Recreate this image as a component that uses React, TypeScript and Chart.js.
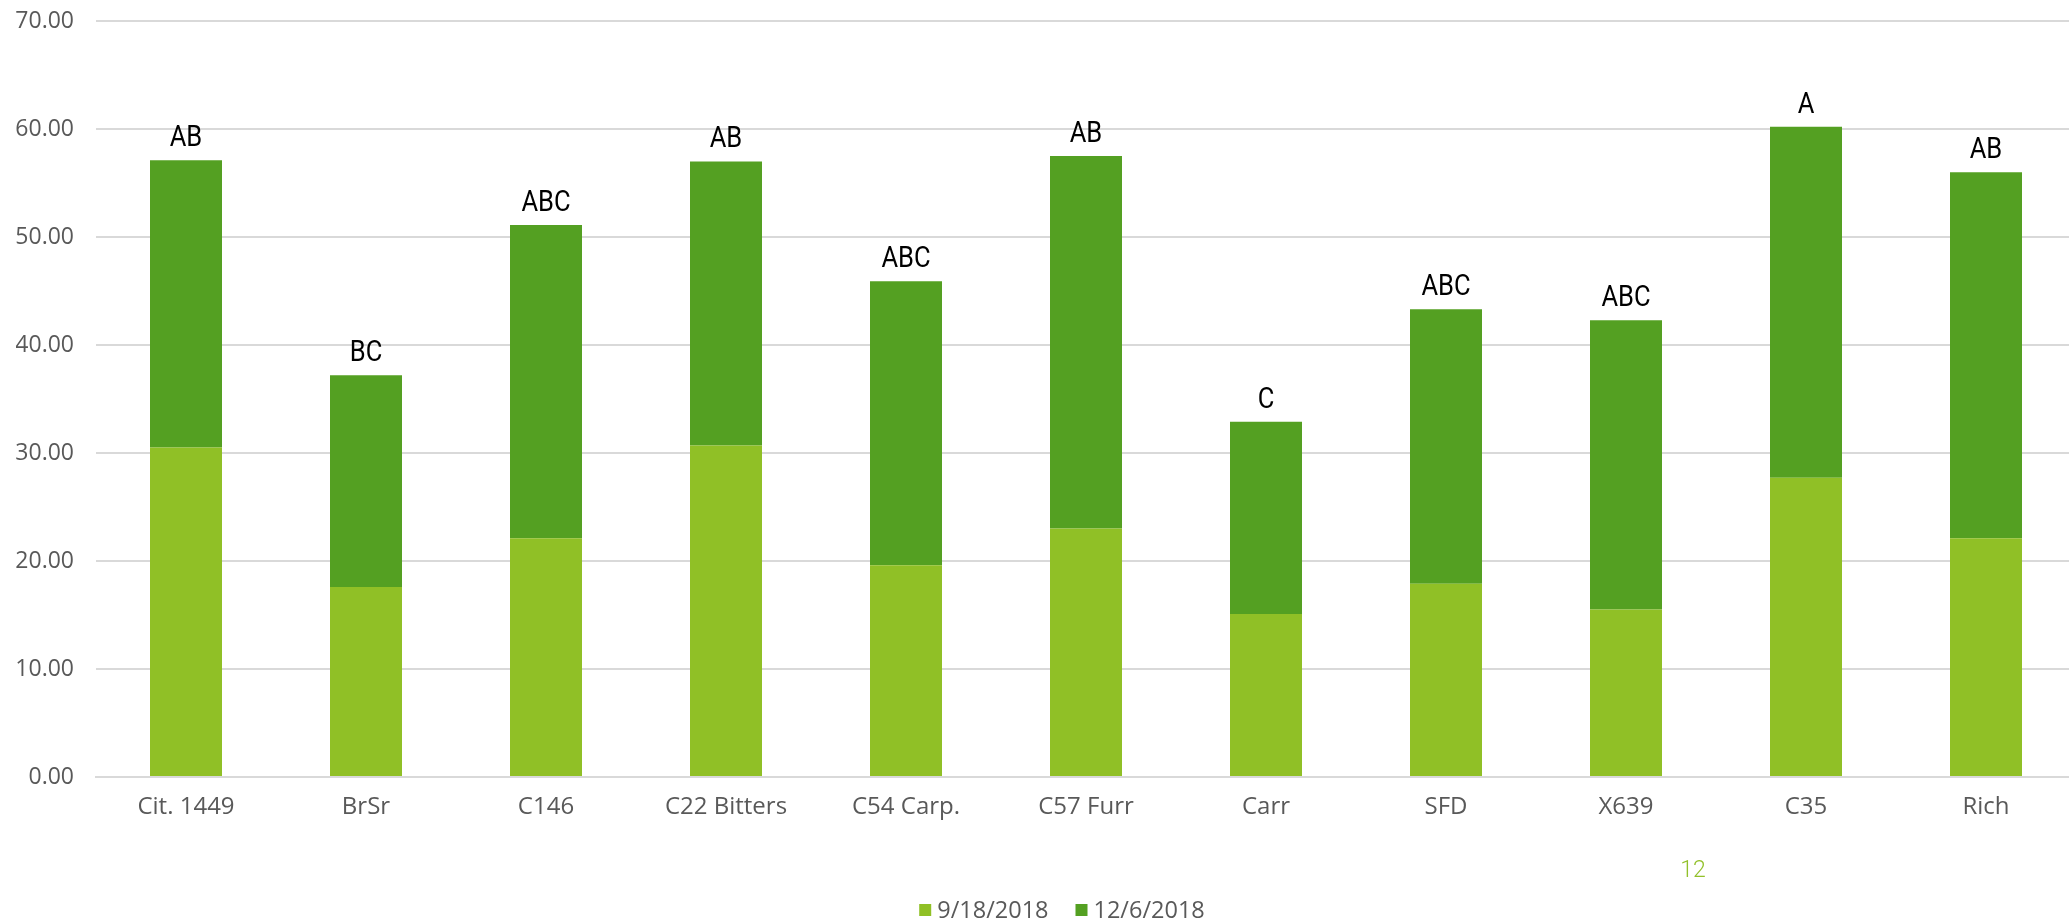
import React, { useEffect, useRef } from "react";
import { Chart, registerables } from "chart.js";

Chart.register(...registerables);

const categories = [
  "Cit. 1449",
  "BrSr",
  "C146",
  "C22 Bitters",
  "C54 Carp.",
  "C57 Furr",
  "Carr",
  "SFD",
  "X639",
  "C35",
  "Rich",
];
const seriesLabels = ["9/18/2018", "12/6/2018"];
const sept18 = [30.5, 17.6, 22.1, 30.7, 19.6, 23.0, 15.1, 17.9, 15.5, 27.7, 22.1];
const dec6 = [26.6, 19.6, 29.0, 26.3, 26.3, 34.5, 17.8, 25.4, 26.8, 32.5, 33.9];
const letters = ["AB", "BC", "ABC", "AB", "ABC", "AB", "C", "ABC", "ABC", "A", "AB"];
const yTicks = [0, 10, 20, 30, 40, 50, 60, 70];
const pageNumber = "12";

const LIGHT = "#90C026";
const DARK = "#54A022";
const GRAY = "#595959";
const GRID = "#D9D9D9";
const SANS = '"Open Sans", sans-serif';

const lettersPlugin = {
  id: "letters",
  afterDatasetsDraw(chart: any) {
    const ctx = chart.ctx;
    const meta = chart.getDatasetMeta(chart.data.datasets.length - 1);
    meta.data.forEach((el: any, i: number) => {
      ctx.save();
      ctx.font = '29px "Roboto", sans-serif';
      ctx.fillStyle = "#000000";
      ctx.textAlign = "center";
      ctx.textBaseline = "alphabetic";
      ctx.translate(el.x, el.y - 14);
      ctx.scale(0.88, 1);
      ctx.fillText(letters[i], 0, 0);
      ctx.restore();
    });
  },
};

const legendPlugin = {
  id: "customLegend",
  afterDraw(chart: any) {
    const ctx = chart.ctx;
    ctx.save();
    ctx.font = `23.5px ${SANS}`;
    const items = chart.data.datasets.map((d: any) => ({
      text: d.label as string,
      color: d.backgroundColor as string,
    }));
    const box = 12;
    const gap = 6;
    const itemGap = 27;
    const widths = items.map((it: any) => box + gap + ctx.measureText(it.text).width);
    const total = widths.reduce((a: number, b: number) => a + b, 0) + itemGap * (items.length - 1);
    let x = 1062 - total / 2;
    const cy = 910;
    ctx.textBaseline = "middle";
    ctx.textAlign = "left";
    items.forEach((it: any, i: number) => {
      ctx.fillStyle = it.color;
      ctx.fillRect(x, cy - box / 2, box, box);
      ctx.fillStyle = GRAY;
      ctx.fillText(it.text, x + box + gap, cy + 1);
      x += widths[i] + itemGap;
    });
    ctx.fillStyle = "#92C02A";
    ctx.font = '300 23px "Roboto", sans-serif';
    ctx.textAlign = "center";
    ctx.fillText(pageNumber, 1693, 871);
    ctx.restore();
  },
};

export default function App() {
  const ref = useRef<HTMLCanvasElement | null>(null);

  useEffect(() => {
    if (!ref.current) return;
    const chart = new Chart(ref.current, {
      type: "bar",
      data: {
        labels: categories,
        datasets: [
          {
            label: seriesLabels[0],
            data: sept18,
            backgroundColor: LIGHT,
            borderWidth: 0,
            barPercentage: 0.4,
            categoryPercentage: 1,
          },
          {
            label: seriesLabels[1],
            data: dec6,
            backgroundColor: DARK,
            borderWidth: 0,
            barPercentage: 0.4,
            categoryPercentage: 1,
          },
        ],
      },
      options: {
        responsive: false,
        animation: false,
        devicePixelRatio: 1,
        layout: { padding: { left: 16, right: 0, top: 21, bottom: 100 } },
        plugins: {
          legend: { display: false },
          tooltip: { enabled: false },
        },
        scales: {
          x: {
            stacked: true,
            afterFit: (s: any) => {
              s.height = 44;
            },
            grid: { display: false },
            border: { display: true, color: GRID, width: 2 },
            ticks: {
              color: GRAY,
              font: { family: SANS, size: 24 },
              padding: 8,
              maxRotation: 0,
              autoSkip: false,
            },
          },
          y: {
            stacked: true,
            min: yTicks[0],
            max: yTicks[yTicks.length - 1],
            afterFit: (s: any) => {
              s.width = 80;
              s.paddingTop = 0;
              s.paddingBottom = 0;
            },
            afterBuildTicks: (s: any) => {
              s.ticks = yTicks.map((v) => ({ value: v }));
            },
            grid: { color: GRID, lineWidth: 2, drawTicks: false },
            border: { display: false },
            ticks: {
              color: GRAY,
              font: { family: SANS, size: 23 },
              padding: 22,
              callback: (v: any) => Number(v).toFixed(2),
            },
          },
        },
      },
      plugins: [lettersPlugin, legendPlugin],
    });
    return () => chart.destroy();
  }, []);

  return (
    <div
      style={{
        position: "fixed",
        left: 0,
        top: 0,
        width: 2069,
        height: 921,
        overflow: "hidden",
        background: "#ffffff",
      }}
    >
      <canvas ref={ref} width={2076} height={921} style={{ width: 2076, height: 921, display: "block" }} />
    </div>
  );
}
